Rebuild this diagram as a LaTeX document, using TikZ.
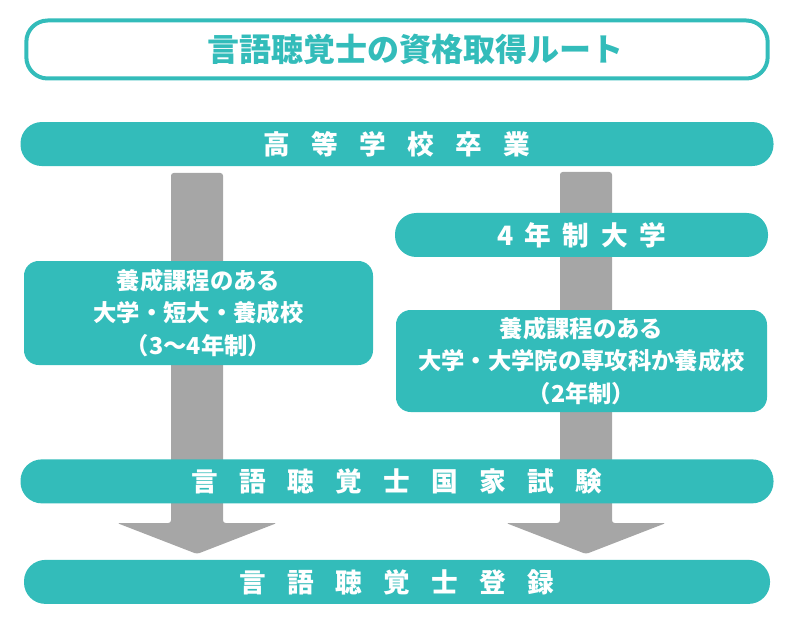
\documentclass[tikz,border=0pt]{standalone}
\usepackage{fontspec}
\setmainfont{Noto Sans CJK JP}
\usetikzlibrary{positioning, calc}
\definecolor{routeteal}{RGB}{51,188,186}
\definecolor{arrowgray}{RGB}{166,166,166}

\begin{document}
\begin{tikzpicture}[x=0.75pt, y=-0.75pt,
	bar/.style={rectangle, fill=routeteal, text=white, rounded corners=16pt, minimum height=33pt, font={\bfseries\fontsize{20}{24}\selectfont\spaceskip=0.8em\relax}},
	box/.style={rectangle, fill=routeteal, text=white, rounded corners=11pt, align=center, inner sep=2pt, font={\bfseries\fontsize{17.5}{24.5}\selectfont}},
	bigarrow/.style={fill=arrowgray, rounded corners=2pt}]
	\useasboundingbox (0,0) rectangle (800,624);

	% Big grey arrows, drawn first so the boxes sit on top.
	\coordinate (L-top) at (197,173);
	\coordinate (L-tip) at (197,554);
	\coordinate (R-top) at (586,172);
	\coordinate (R-tip) at (586,554);
	\foreach \a in {L,R}
		\fill[bigarrow] ($(\a-top)+(-26,0)$) -- ($(\a-top)+(26,0)$) -- ($(\a-tip)+(26,-31)$) -- ($(\a-tip)+(80,-31)$) -- (\a-tip) -- ($(\a-tip)+(-80,-31)$) -- ($(\a-tip)+(-26,-31)$) -- cycle;

	% Title and the main column.
	\node at (397,49.5) [rectangle, draw=routeteal, line width=3pt, rounded corners=16pt, minimum width=556pt, minimum height=43.5pt] (title) {};
	\node[text=routeteal, font={\bfseries\fontsize{24}{28}\selectfont}, xshift=14pt] at (title.center) (titletext) {言語聴覚士の資格取得ルート};
	\node[bar, below of=title, node distance=70.9pt, minimum width=564.75pt] (school) {高 等 学 校 卒 業};
	\node[bar, below of=school, node distance=253pt, minimum width=564.75pt] (exam) {言 語 聴 覚 士 国 家 試 験};
	\node[bar, below of=exam, node distance=75.4pt, minimum width=559.5pt] (register) {言 語 聴 覚 士 登 録};

	% Left route.
	\node at (198.5,313) [box, minimum width=261.75pt, minimum height=78pt] (course) {養成課程のある\\大学・短大・養成校\\（3〜4年制）};

	% Right route.
	\node at (581.5,235) [bar, minimum width=279.75pt, font={\bfseries\fontsize{20}{24}\selectfont\spaceskip=0.43em\relax}] (univ) {4 年 制 大 学};
	\node[box, below of=univ, node distance=94.5pt, minimum width=278.25pt, minimum height=76.5pt] (postgrad) {養成課程のある\\大学・大学院の専攻科か養成校\\（2年制）};
\end{tikzpicture}
\end{document}
